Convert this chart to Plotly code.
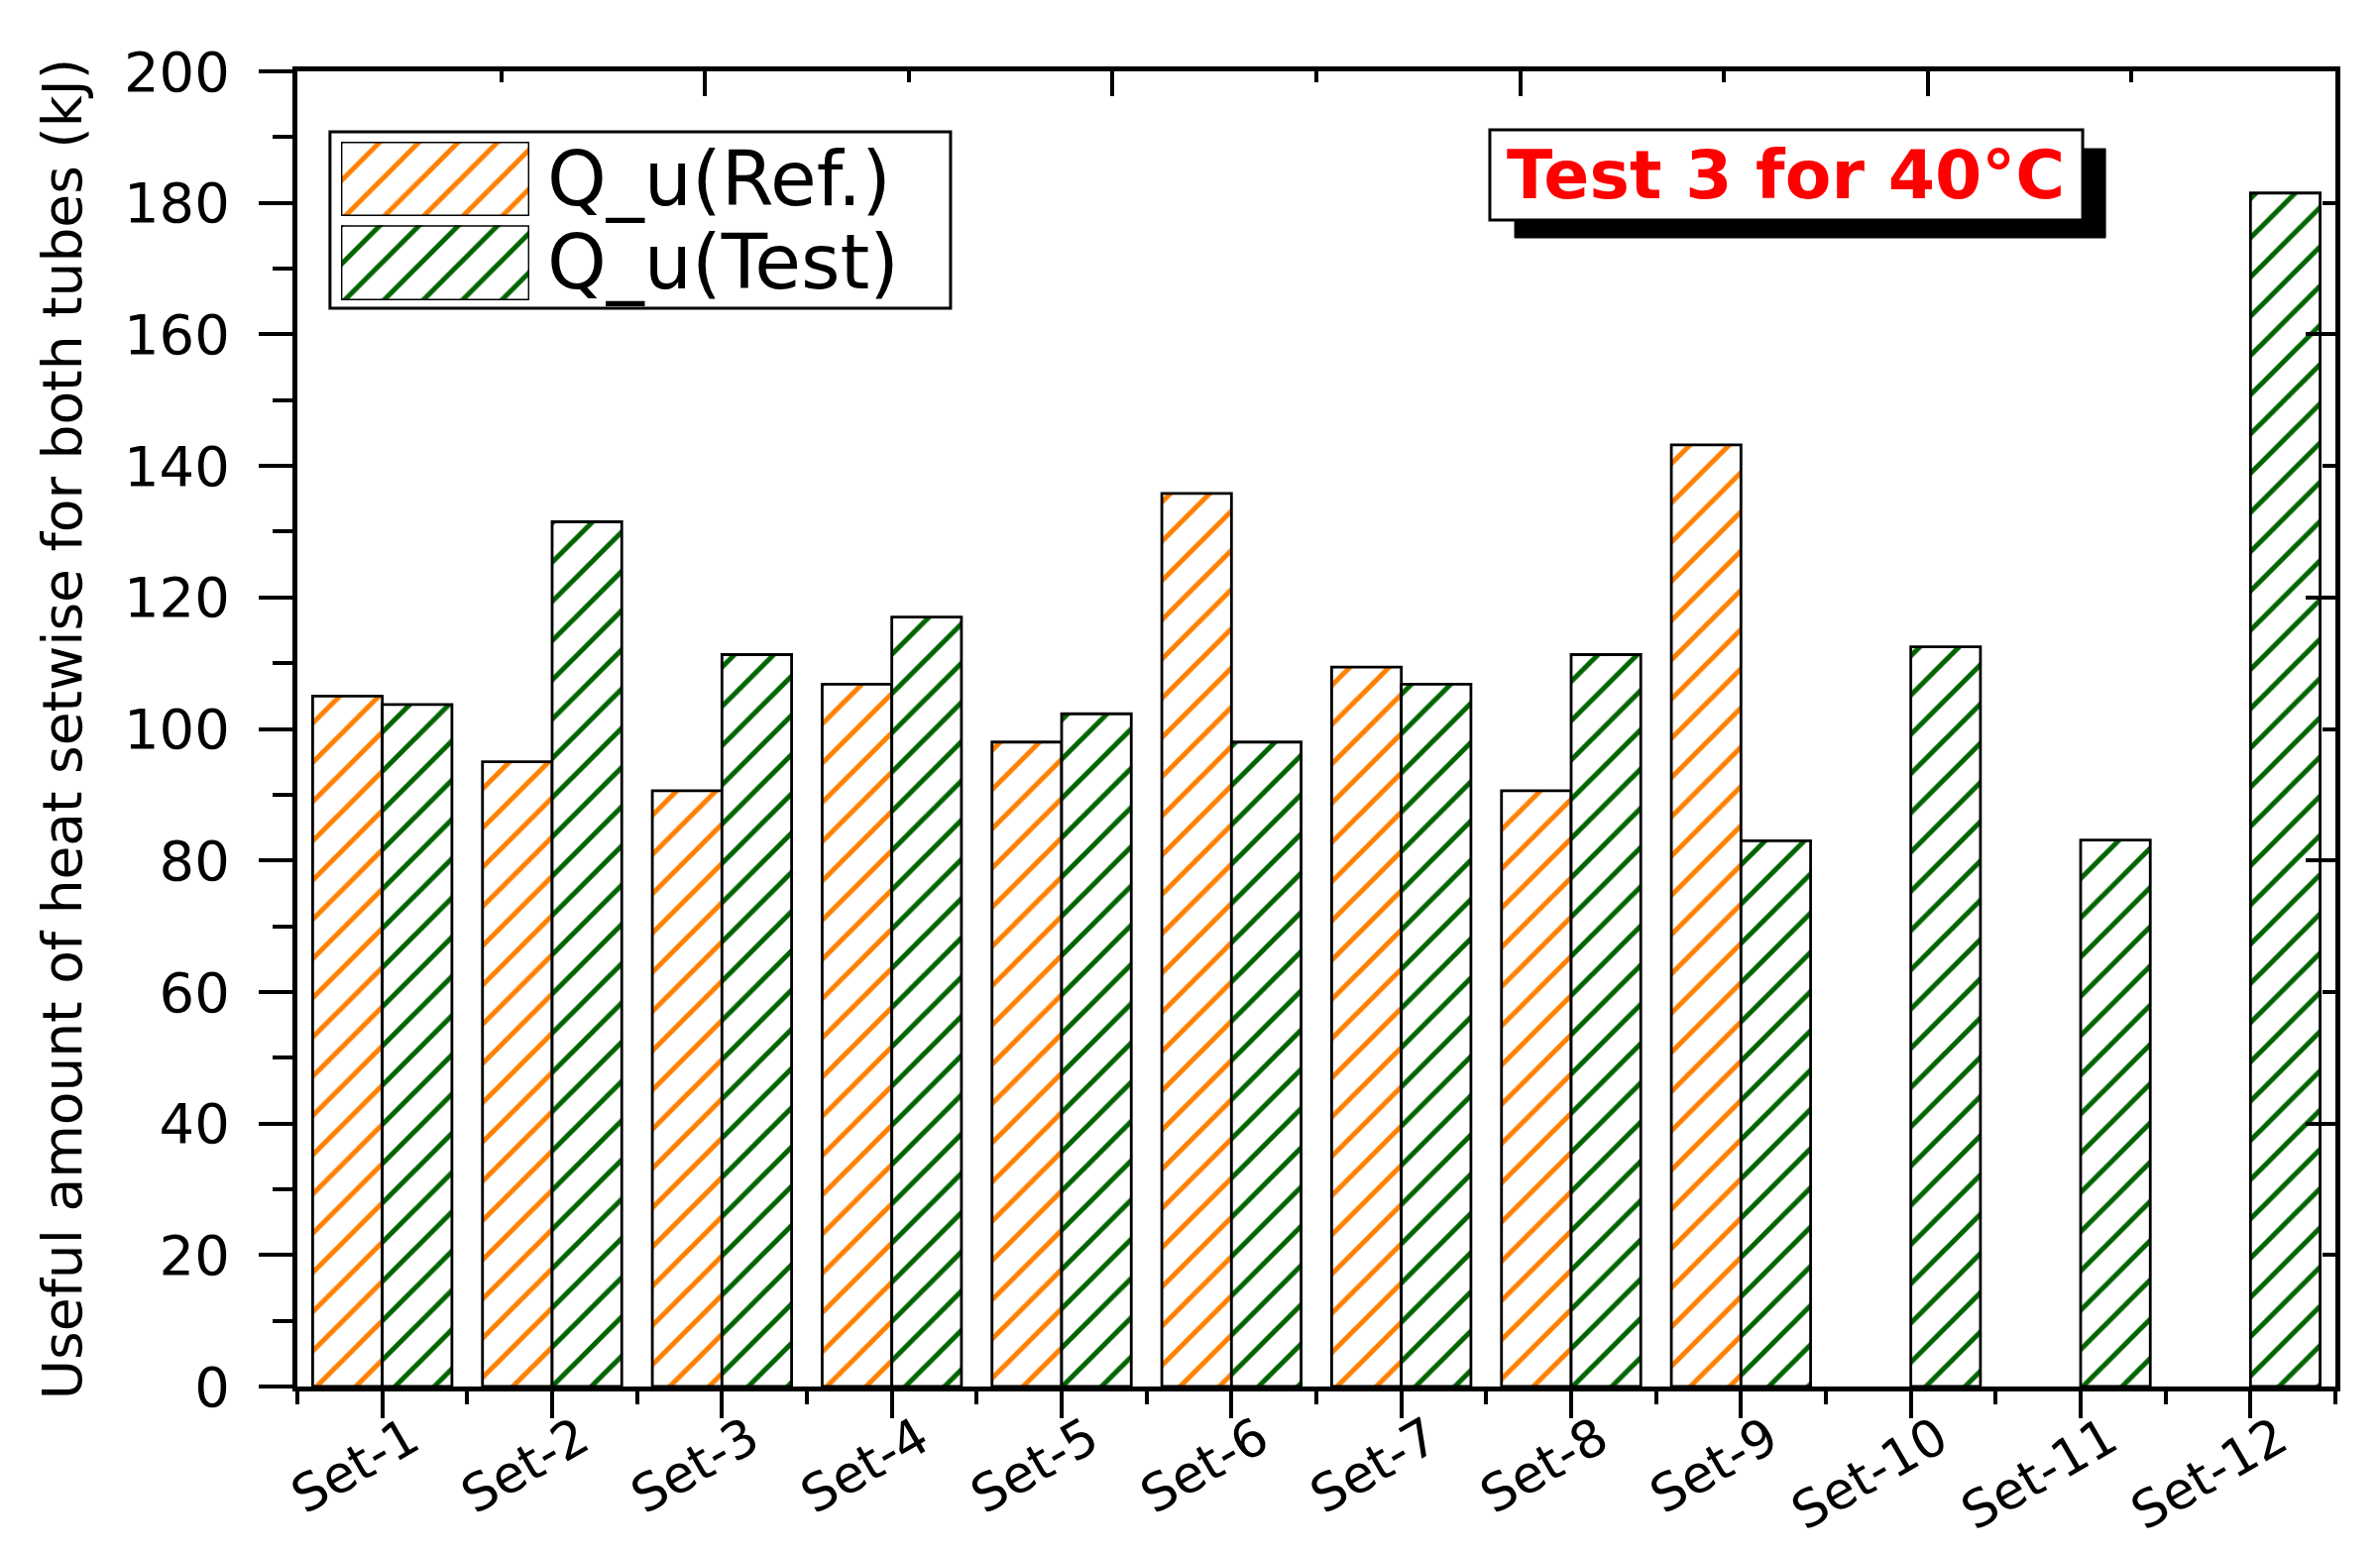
import plotly.graph_objects as go

categories = ["Set-1", "Set-2", "Set-3", "Set-4", "Set-5", "Set-6",
              "Set-7", "Set-8", "Set-9", "Set-10", "Set-11", "Set-12"]
q_ref = [105.0, 95.0, 90.6, 106.8, 98.0, 135.8, 109.4, 90.6, 143.2, None, None, None]
q_test = [103.7, 131.5, 111.3, 117.0, 102.3, 98.0, 106.8, 111.3, 83.0, 112.5, 83.1, 181.5]
series_names = ["Q_u(Ref.)", "Q_u(Test)"]
y_ticks = list(range(0, 201, 20))

ORANGE = "#FF8000"
GREEN = "#006400"
FONT = "DejaVu Sans, Liberation Sans, Arial, sans-serif"

x_pos = list(range(len(categories)))


def hatch(color):
    return dict(color="white",
                line=dict(color="black", width=2.8),
                pattern=dict(shape="/", fgcolor=color, bgcolor="white",
                             size=28, solidity=0.18, fillmode="replace"))


fig = go.Figure()
fig.add_trace(go.Bar(x=x_pos, y=q_ref, name=series_names[0], marker=hatch(ORANGE),
                     showlegend=False))
fig.add_trace(go.Bar(x=x_pos, y=q_test, name=series_names[1], marker=hatch(GREEN),
                     showlegend=False))

# legend key swatches (drawn as bars on small hidden axes)
fig.add_trace(go.Bar(x=[0], y=[1], width=[1], marker=hatch(ORANGE), xaxis="x3", yaxis="y3",
                     showlegend=False, hoverinfo="skip"))
fig.add_trace(go.Bar(x=[0], y=[1], width=[1], marker=hatch(GREEN), xaxis="x4", yaxis="y4",
                     showlegend=False, hoverinfo="skip"))
# carrier for the mirrored top/right axes
fig.add_trace(go.Scatter(x=[None], y=[None], xaxis="x2", yaxis="y2", showlegend=False,
                         hoverinfo="skip"))

AX_W = 5
TK_W = 4

fig.update_layout(
    width=2401, height=1568,
    margin=dict(l=292, r=53, t=64, b=177),
    paper_bgcolor="white", plot_bgcolor="white",
    font=dict(family=FONT, color="black"),
    barmode="group", bargap=0.18, bargroupgap=0,
    showlegend=False,
    xaxis=dict(
        range=[-0.5, 11.5], tickmode="array", tickvals=x_pos, ticktext=categories,
        tickangle=-30, tickfont=dict(size=52),
        ticks="outside", ticklen=27, tickwidth=TK_W, tickcolor="black",
        ticklabelshift=28, ticklabelstandoff=-30,
        minor=dict(tickmode="array", tickvals=[i - 0.5 for i in range(len(categories) + 1)],
                   ticks="outside", ticklen=13, tickwidth=TK_W, tickcolor="black"),
        showline=True, linewidth=AX_W, linecolor="black",
        showgrid=False, zeroline=False, automargin=False,
    ),
    yaxis=dict(
        range=[0, 200], tickmode="array", tickvals=y_ticks,
        tickfont=dict(size=56), ticklabelstandoff=18,
        ticks="outside", ticklen=34, tickwidth=TK_W, tickcolor="black",
        minor=dict(dtick=10, tick0=0, ticks="outside", ticklen=20, tickwidth=TK_W,
                   tickcolor="black"),
        showline=True, linewidth=AX_W, linecolor="black",
        showgrid=False, zeroline=False, automargin=False,
        title=dict(text="Useful amount of heat setwise for both tubes (kJ)",
                   font=dict(size=55), standoff=26),
    ),
    xaxis2=dict(
        overlaying="x", side="top", anchor="y2", range=[0, 5],
        tickmode="array", tickvals=[0, 1, 2, 3, 4, 5], showticklabels=False,
        ticks="inside", ticklen=25, tickwidth=TK_W, tickcolor="black",
        minor=dict(tickmode="array", tickvals=[0.5, 1.5, 2.5, 3.5, 4.5],
                   ticks="inside", ticklen=11, tickwidth=TK_W, tickcolor="black"),
        showline=True, linewidth=AX_W, linecolor="black",
        showgrid=False, zeroline=False, automargin=False,
    ),
    yaxis2=dict(
        overlaying="y", side="right", anchor="x2", range=[0, 200],
        tickmode="array", tickvals=[0, 40, 80, 120, 160, 200], showticklabels=False,
        ticks="inside", ticklen=30, tickwidth=TK_W, tickcolor="black",
        minor=dict(tickmode="array", tickvals=[20, 60, 100, 140, 180],
                   ticks="inside", ticklen=13, tickwidth=TK_W, tickcolor="black"),
        showline=True, linewidth=AX_W, linecolor="black",
        showgrid=False, zeroline=False, automargin=False,
    ),
    xaxis3=dict(domain=[0.0214, 0.1138], anchor="y3", range=[-0.5, 0.5], visible=False),
    yaxis3=dict(domain=[0.890, 0.9465], anchor="x3", range=[0, 1], visible=False),
    xaxis4=dict(domain=[0.0214, 0.1138], anchor="y4", range=[-0.5, 0.5], visible=False),
    yaxis4=dict(domain=[0.826, 0.883], anchor="x4", range=[0, 1], visible=False),
)

# legend frame
fig.add_shape(type="rect", xref="paper", yref="paper", x0=0.016, x1=0.3205, y0=0.8199, y1=0.954,
              line=dict(color="black", width=3), fillcolor="white", layer="below")
fig.add_annotation(x=0.1215, y=0.9186, xref="paper", yref="paper", xanchor="left", yanchor="middle",
                   text=series_names[0], showarrow=False, font=dict(size=76, color="black"))
fig.add_annotation(x=0.1215, y=0.8546, xref="paper", yref="paper", xanchor="left", yanchor="middle",
                   text=series_names[1], showarrow=False, font=dict(size=76, color="black"))

# title box with drop shadow
fig.add_shape(type="rect", xref="paper", yref="paper", x0=0.5973, x1=0.8872, y0=0.8734, y1=0.9412,
              line=dict(color="black", width=1), fillcolor="black", layer="above")
fig.add_shape(type="rect", xref="paper", yref="paper", x0=0.5851, x1=0.876, y0=0.887, y1=0.9555,
              line=dict(color="black", width=3), fillcolor="white", layer="above")
fig.add_annotation(x=0.7305, y=0.9213, xref="paper", yref="paper", xanchor="center", yanchor="middle",
                   text="<b>Test 3 for 40°C</b>", showarrow=False,
                   font=dict(size=68, color="#FF0000"))

fig.write_html("out.html")
